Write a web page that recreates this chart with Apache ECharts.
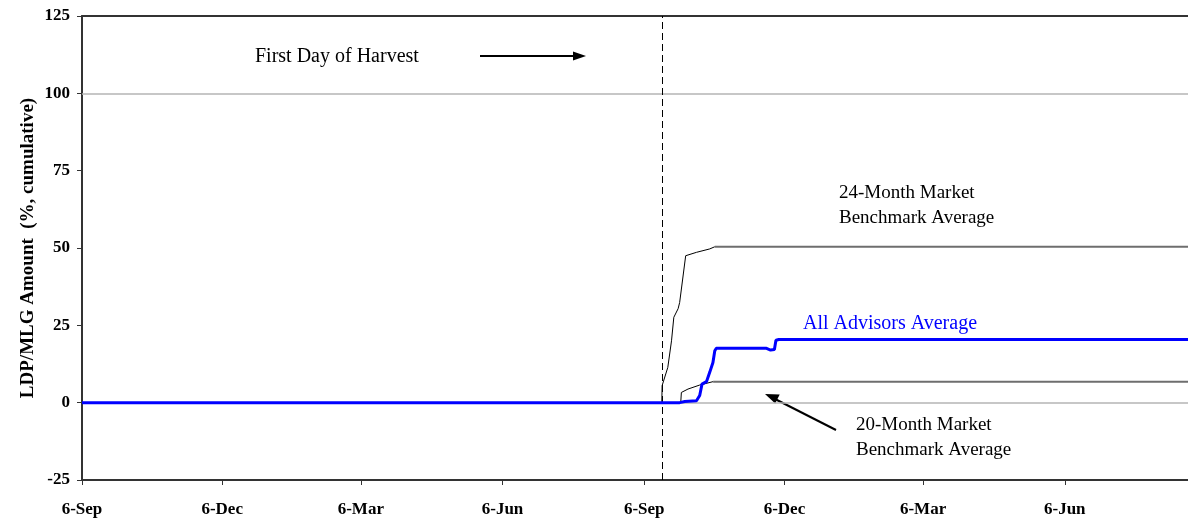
<!DOCTYPE html>
<html>
<head>
<meta charset="utf-8">
<script src="https://cdn.jsdelivr.net/npm/echarts@6/dist/echarts.min.js"></script>
<style>
html,body{margin:0;padding:0;background:#fff;}
#chart{width:1188px;height:523px;}
</style>
</head>
<body>
<div id="chart"></div>
<script>
// Days counted from 6-Sep of the first year
const tickDays = [0, 91, 181, 273, 365, 456, 546, 638];
const tickLabels = ['6-Sep', '6-Dec', '6-Mar', '6-Jun', '6-Sep', '6-Dec', '6-Mar', '6-Jun'];
const axisMaxDay = 718;
const harvestDay = 376.4;

// 24-Month Market Benchmark Average
const bench24Days = [376.4, 376.6, 380.3, 382.7, 384.2, 387, 388, 391.9, 398.9, 407.5, 410.8];
const bench24Vals = [0, 5.5, 11.4, 20, 27.6, 30.4, 32.4, 47.5, 48.6, 49.7, 50.4];
const bench24FlatDays = [410.8, 718];
const bench24FlatVals = [50.4, 50.4];

// 20-Month Market Benchmark Average
const bench20Days = [388.7, 389.1, 393.4, 401, 409.7];
const bench20Vals = [0, 3.3, 4.4, 5.7, 6.8];
const bench20FlatDays = [409.7, 718];
const bench20FlatVals = [6.8, 6.8];

// All Advisors Average
const advDays = [0, 388, 391.3, 398.9, 401, 402.5, 405.4, 407.5, 409.6, 410.8, 411.8, 444, 447, 449.5, 450.5, 452.3, 718];
const advVals = [0, 0, 0.4, 0.6, 2.3, 6.0, 6.8, 9.8, 13, 16.8, 17.6, 17.6, 17.0, 17.2, 20.2, 20.4, 20.4];

const zip = (xs, ys) => xs.map((x, i) => [x, ys[i]]);
const FONT = '"Liberation Serif", "Times New Roman", serif';

const chart = echarts.init(document.getElementById('chart'));
chart.setOption({
  animation: false,
  backgroundColor: '#fff',
  grid: {left: 82, right: 0, top: 16, bottom: 43},
  xAxis: [{
    type: 'value', min: 0, max: axisMaxDay, position: 'bottom',
    axisLine: {show: true, onZero: false, lineStyle: {color: '#333', width: 2}},
    axisTick: {show: true, length: 5, customValues: tickDays, lineStyle: {color: '#333'}},
    axisLabel: {
      customValues: tickDays, margin: 21,
      formatter: v => tickLabels[tickDays.indexOf(v)] || '',
      fontFamily: FONT, fontWeight: 'bold', fontSize: 17, color: '#000'
    },
    splitLine: {show: false}
  }, {
    type: 'value', min: 0, max: axisMaxDay, position: 'top',
    axisLine: {show: true, onZero: false, lineStyle: {color: '#333', width: 2}},
    axisTick: {show: false}, axisLabel: {show: false}, splitLine: {show: false}
  }],
  yAxis: {
    type: 'value', min: -25, max: 125, interval: 25,
    name: 'LDP/MLG Amount  (%, cumulative)',
    nameLocation: 'middle', nameGap: 44, nameRotate: 90, nameMoveOverlap: false,
    nameTextStyle: {fontFamily: FONT, fontWeight: 'bold', fontSize: 19, color: '#000'},
    axisLine: {show: true, onZero: false, lineStyle: {color: '#333', width: 2}},
    axisTick: {show: true, length: 5, lineStyle: {color: '#333'}},
    axisLabel: {fontFamily: FONT, fontWeight: 'bold', fontSize: 17, color: '#000', margin: 12},
    splitLine: {show: false}
  },
  series: [
    {
      type: 'line', name: 'grid', data: [], silent: true, z: 1,
      markLine: {
        silent: true, symbol: 'none', label: {show: false}, z: 1,
        lineStyle: {color: '#b4b4b4', type: 'solid', width: 1.5},
        data: [{yAxis: 0}, {yAxis: 100}]
      }
    },
    {
      type: 'line', name: 'harvest', data: [], silent: true, z: 1,
      markLine: {
        silent: true, symbol: 'none', label: {show: false}, z: 1,
        lineStyle: {color: '#000', type: [7, 4], width: 1},
        data: [{xAxis: harvestDay}]
      }
    },
    {type: 'line', z: 3, data: zip(bench24Days, bench24Vals), showSymbol: false, lineStyle: {color: '#000', width: 1}},
    {type: 'line', z: 3, data: zip(bench24FlatDays, bench24FlatVals), showSymbol: false, lineStyle: {color: '#6e6e6e', width: 2}},
    {type: 'line', z: 3, data: zip(bench20Days, bench20Vals), showSymbol: false, lineStyle: {color: '#000', width: 1}},
    {type: 'line', z: 3, data: zip(bench20FlatDays, bench20FlatVals), showSymbol: false, lineStyle: {color: '#6e6e6e', width: 2}},
    {type: 'line', z: 5, data: zip(advDays, advVals), showSymbol: false, lineStyle: {color: '#0000ff', width: 3}}
  ],
  graphic: [
    {type: 'text', left: 255, top: 47, style: {text: 'First Day of Harvest', font: '20px ' + FONT, fill: '#000'}},
    {type: 'line', shape: {x1: 480, y1: 56, x2: 575, y2: 56}, style: {stroke: '#000', lineWidth: 2}},
    {type: 'polygon', shape: {points: [[586, 56], [573, 51.5], [573, 60.5]]}, style: {fill: '#000'}},
    {type: 'text', left: 839, top: 181, style: {text: '24-Month Market\nBenchmark Average', font: '19px ' + FONT, lineHeight: 25, fill: '#000'}},
    {type: 'text', left: 803, top: 314, style: {text: 'All Advisors Average', font: '20px ' + FONT, fill: '#0000ff'}},
    {type: 'text', left: 856, top: 413, style: {text: '20-Month Market\nBenchmark Average', font: '19px ' + FONT, lineHeight: 25, fill: '#000'}},
    {type: 'line', shape: {x1: 836, y1: 430, x2: 775, y2: 399}, style: {stroke: '#000', lineWidth: 2}},
    {type: 'polygon', shape: {points: [[765, 394], [779.7, 394.6], [775.2, 403.5]]}, style: {fill: '#000'}}
  ]
});
</script>
</body>
</html>
